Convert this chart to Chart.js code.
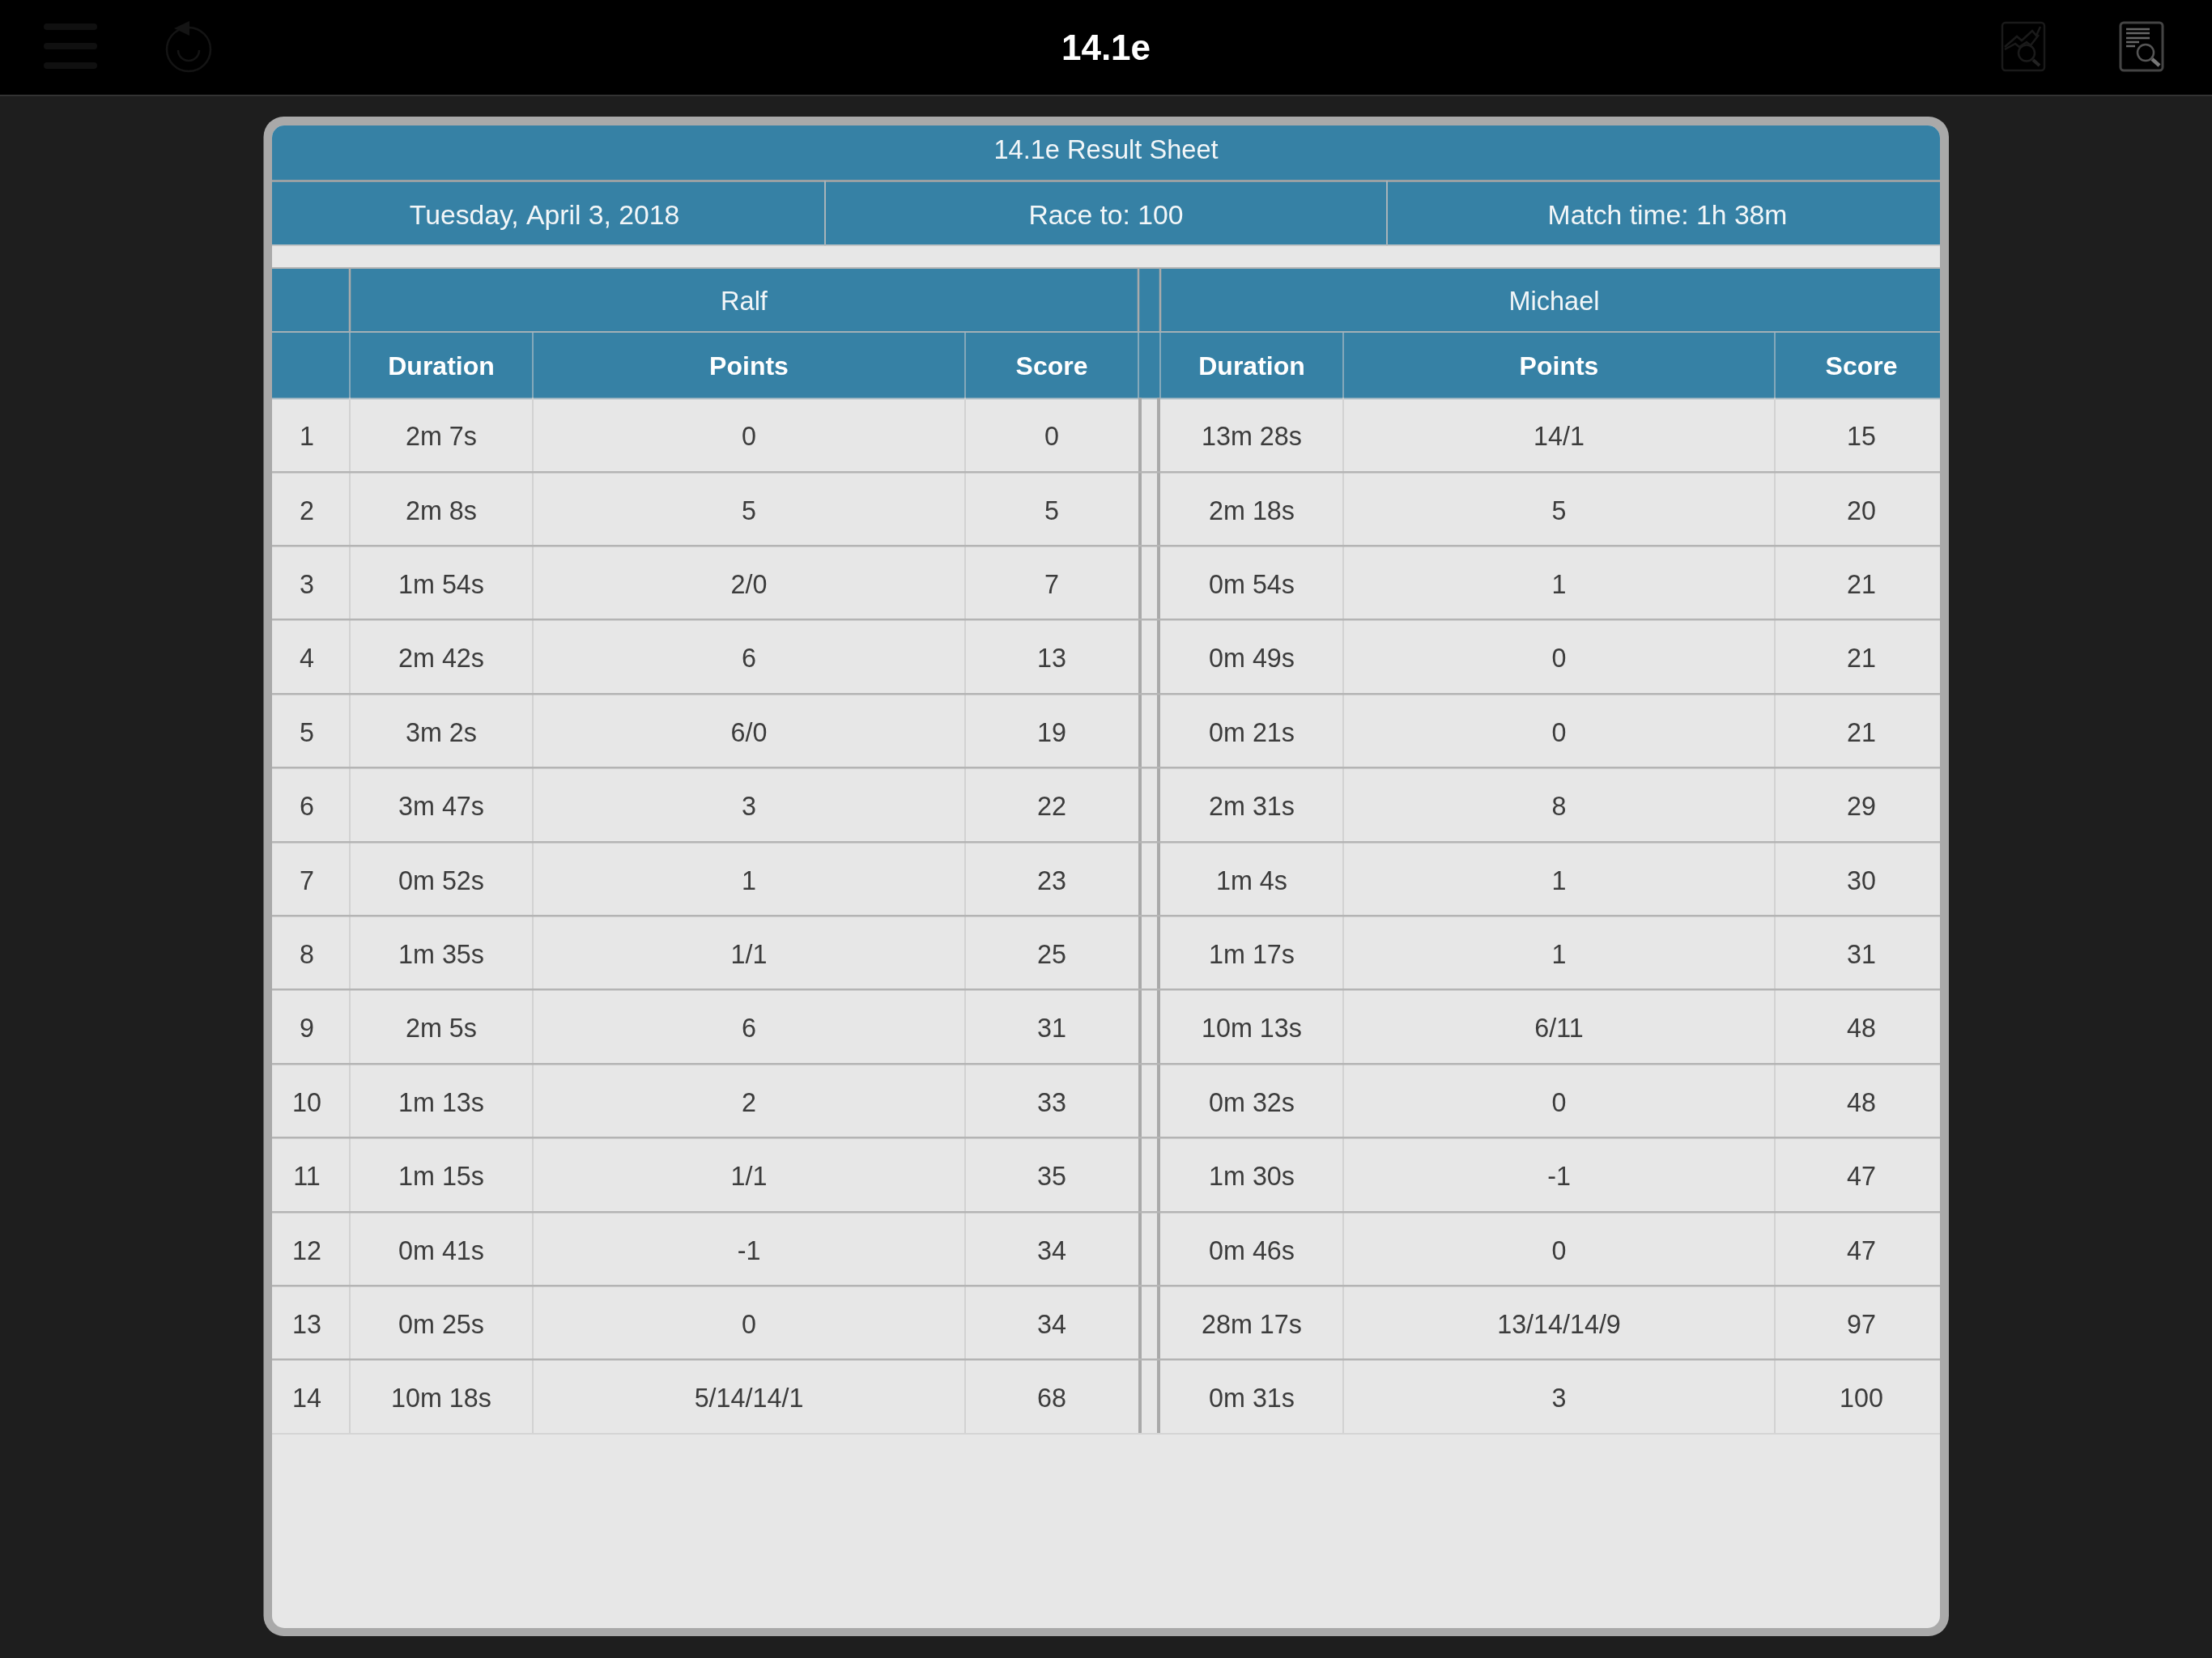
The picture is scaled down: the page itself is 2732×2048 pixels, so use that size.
<!DOCTYPE html>
<html><head><meta charset="utf-8">
<style>html,body{margin:0;padding:0;background:#1e1e1e}canvas{display:block}</style>
<script src="https://cdn.jsdelivr.net/npm/chart.js@4"></script>
</head><body><canvas id="c" width="2732" height="2048"></canvas>
<script>
const appTitle = "14.1e";
const sheetTitle = "14.1e Result Sheet";
const matchInfo = ["Tuesday, April 3, 2018", "Race to: 100", "Match time: 1h 38m"];
const players = ["Ralf", "Michael"];
const columnHeaders = ["Duration", "Points", "Score"];
const racks = [1,2,3,4,5,6,7,8,9,10,11,12,13,14];
const ralfDuration = ["2m 7s","2m 8s","1m 54s","2m 42s","3m 2s","3m 47s","0m 52s","1m 35s","2m 5s","1m 13s","1m 15s","0m 41s","0m 25s","10m 18s"];
const ralfPoints = ["0","5","2/0","6","6/0","3","1","1/1","6","2","1/1","-1","0","5/14/14/1"];
const ralfScore = [0,5,7,13,19,22,23,25,31,33,35,34,34,68];
const michaelDuration = ["13m 28s","2m 18s","0m 54s","0m 49s","0m 21s","2m 31s","1m 4s","1m 17s","10m 13s","0m 32s","1m 30s","0m 46s","28m 17s","0m 31s"];
const michaelPoints = ["14/1","5","1","0","0","8","1","1","6/11","0","-1","0","13/14/14/9","3"];
const michaelScore = [15,20,21,21,21,29,30,31,48,48,47,47,97,100];

// layout (page pixels), kept apart from the data
const colEdges = [326,432,658,1192,1406,1433,1659,2192,2406];
const bodyRules = [432,658,1192,1408,1431,1659,2192];
const thickRules = [1408,1431];
const mid = (a,b)=>(a+b)/2;
const ROW_TOP = 491.5, ROW_H = 91.4;
const yVal = px => (px-ROW_TOP)/ROW_H+0.5;
const BLUE="#3681a5", CELL="#e7e7e7", FRAME="#a9a9a9";
const FONT='"Liberation Sans"';

function col(values, x){ return values.map((v,i)=>({x, y:racks[i], label:String(v)})); }
const bodyPoints = [
  ...col(racks, mid(colEdges[0],colEdges[1])),
  ...col(ralfDuration, mid(colEdges[1],colEdges[2])),
  ...col(ralfPoints, mid(colEdges[2],colEdges[3])),
  ...col(ralfScore, mid(colEdges[3],colEdges[4])),
  ...col(michaelDuration, mid(colEdges[5],colEdges[6])),
  ...col(michaelPoints, mid(colEdges[6],colEdges[7])),
  ...col(michaelScore, mid(colEdges[7],colEdges[8])),
];
const headPoints = [
  {x:mid(colEdges[1],colEdges[2]),y:yVal(453),label:columnHeaders[0]},
  {x:mid(colEdges[2],colEdges[3]),y:yVal(453),label:columnHeaders[1]},
  {x:mid(colEdges[3],colEdges[4]),y:yVal(453),label:columnHeaders[2]},
  {x:mid(colEdges[5],colEdges[6]),y:yVal(453),label:columnHeaders[0]},
  {x:mid(colEdges[6],colEdges[7]),y:yVal(453),label:columnHeaders[1]},
  {x:mid(colEdges[7],colEdges[8]),y:yVal(453),label:columnHeaders[2]},
];
const sheetPoints = [{x:1366,y:yVal(186.5),label:sheetTitle}];
const infoPoints = [
  {x:mid(326,1019),y:yVal(267),label:matchInfo[0]},
  {x:mid(1019,1713),y:yVal(267),label:matchInfo[1]},
  {x:mid(1713,2406),y:yVal(267),label:matchInfo[2]},
];
const playerPoints = [
  {x:mid(colEdges[1],colEdges[4]),y:yVal(373),label:players[0]},
  {x:mid(colEdges[5],colEdges[8]),y:yVal(373),label:players[1]},
];
const titlePoints = [{x:1366,y:yVal(61),label:appTitle}];

function rr(ctx,x,y,w,h,r){ctx.beginPath();ctx.roundRect(x,y,w,h,r);}
function line(ctx,x1,y1,x2,y2,c,w){ctx.strokeStyle=c;ctx.lineWidth=w;ctx.beginPath();ctx.moveTo(x1,y1);ctx.lineTo(x2,y2);ctx.stroke();}

const chrome = {
  id:"chrome",
  beforeDraw(chart){
    const c=chart.ctx; c.save();
    c.fillStyle="#1e1e1e"; c.fillRect(0,0,2732,2048);
    c.fillStyle="#000"; c.fillRect(0,0,2732,117);
    c.fillStyle="#3a3a3a"; c.fillRect(0,117,2732,1.5);
    // hamburger
    c.fillStyle="#101010";
    [29,53,77].forEach(y=>{rr(c,54,y,66,8,4);c.fill();});
    // undo
    c.strokeStyle="#141414";c.lineWidth=2.5;
    c.beginPath();c.arc(233,61,27,-Math.PI/2,Math.PI*1.42);c.stroke();
    c.beginPath();c.arc(233,62,13,0,Math.PI);c.stroke();
    c.fillStyle="#141414";c.beginPath();c.moveTo(215,35);c.lineTo(234,26);c.lineTo(234,44);c.closePath();c.fill();
    // chart icon
    c.strokeStyle="#1a1a1a";c.lineWidth=2.5;rr(c,2473,28,52,59,4);c.stroke();
    c.beginPath();[[2476,58],[2491,45],[2497,50],[2510,38],[2515,44],[2520,33]].forEach((p,i)=>i?c.lineTo(p[0],p[1]):c.moveTo(p[0],p[1]));c.stroke();
    c.beginPath();[[2476,61],[2489,54],[2494,58],[2503,52],[2508,56],[2518,43]].forEach((p,i)=>i?c.lineTo(p[0],p[1]):c.moveTo(p[0],p[1]));c.stroke();
    c.beginPath();c.arc(2503,65.5,10,0,7);c.stroke();
    line(c,2511,74,2519,81,"#222222",4);
    // doc icon
    c.strokeStyle="#444";c.lineWidth=3;rr(c,2619,28,52,59,4);c.stroke();
    [[36,2655],[41,2655],[47,2655],[52,2642],[57,2637]].forEach(a=>line(c,2626,a[0],a[1],a[0],"#666",2.5));
    c.strokeStyle="#555";c.lineWidth=2.5;c.beginPath();c.arc(2650,65,10,0,7);c.stroke();
    line(c,2658,73,2667,81,"#777",4.5);
    // card
    c.fillStyle=FRAME;
    rr(c,325.5,144,2081.5,1877,25);c.fill();
    c.save();rr(c,336,155,2060,1856,15);c.clip();
    c.fillStyle=CELL;c.fillRect(336,155,2060,1856);
    c.fillStyle=BLUE;c.fillRect(336,155,2060,148);c.fillRect(336,331,2060,161);
    line(c,336,223.5,2396,223.5,"#aaa6a4",2.5);
    line(c,336,303,2396,303,"#c4c6c7",2);
    line(c,336,331,2396,331,"#b4b4b4",2);
    line(c,336,410,2396,410,"#a3b0b6",2);
    line(c,336,492.5,2396,492.5,"#b8c4ca",2);
    line(c,1019,223,1019,303,"#a8b4ba",2);
    line(c,1713,223,1713,303,"#a8b4ba",2);
    [432,1406,1433].forEach(x=>line(c,x,331,x,410,"#aaaaaa",2.5));
    colEdges.slice(1,-1).forEach(x=>line(c,x,410,x,492,"#9fb6c2",1.5));
    c.restore();
    c.restore();
  }
};
const labels = {
  id:"labels",
  afterDatasetsDraw(chart){
    const c=chart.ctx;c.save();c.textAlign="center";c.textBaseline="middle";
    chart.data.datasets.forEach((ds,i)=>{
      c.font=ds.textFont;c.fillStyle=ds.textColor;
      chart.getDatasetMeta(i).data.forEach((el,j)=>c.fillText(ds.data[j].label,el.x,el.y+ds.textShift));
    });
    c.restore();
  }
};
new Chart(document.getElementById("c"),{
  type:"scatter",
  data:{datasets:[
    {label:"Cells",data:bodyPoints,pointRadius:0,textShift:4,textFont:`32.3px ${FONT}`,textColor:"#3c3c3c"},
    {label:"Column heads",data:headPoints,pointRadius:0,textShift:1,textFont:`bold 32px ${FONT}`,textColor:"#ffffff"},
    {label:"Sheet title",data:sheetPoints,pointRadius:0,textShift:1,textFont:`32.6px ${FONT}`,textColor:"#f2f6f8"},
    {label:"Match info",data:infoPoints,pointRadius:0,textShift:1,textFont:`33.7px ${FONT}`,textColor:"#f2f6f8"},
    {label:"Players",data:playerPoints,pointRadius:0,textShift:1,textFont:`32.5px ${FONT}`,textColor:"#f2f6f8"},
    {label:"App title",data:titlePoints,pointRadius:0,textShift:1,textFont:`bold 44px ${FONT}`,textColor:"#ffffff"},
  ]},
  options:{
    responsive:false,devicePixelRatio:1,animation:false,events:[],
    layout:{padding:{left:336,right:336,top:ROW_TOP,bottom:2048-ROW_TOP-14*ROW_H}},
    plugins:{legend:{display:false},tooltip:{enabled:false},title:{display:false}},
    scales:{
      x:{type:"linear",min:336,max:2396,
        afterBuildTicks:a=>{a.ticks=bodyRules.map(v=>({value:v}));},
        ticks:{display:false},border:{display:false},
        grid:{drawTicks:false,
          color:ctx=>thickRules.includes(ctx.tick&&ctx.tick.value)?FRAME:"#d2d2d2",
          lineWidth:ctx=>thickRules.includes(ctx.tick&&ctx.tick.value)?4:2}},
      y:{type:"linear",min:0.5,max:14.5,reverse:true,
        afterBuildTicks:a=>{a.ticks=racks.map(r=>({value:r+0.5}));},
        ticks:{display:false},border:{display:false},
        grid:{drawTicks:false,
          color:ctx=>ctx.tick&&ctx.tick.value===14.5?"#d4d4d4":"#b4b4b4",
          lineWidth:ctx=>ctx.tick&&ctx.tick.value===14.5?2:2.5}}
    }
  },
  plugins:[chrome,labels]
});
</script></body></html>
